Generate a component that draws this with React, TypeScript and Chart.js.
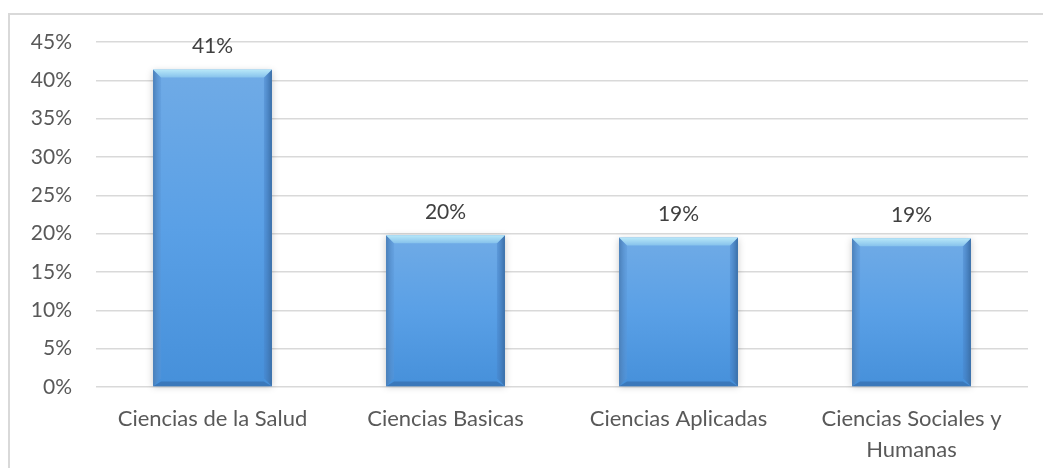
import React, { useEffect, useRef } from "react";
import { Chart, registerables } from "chart.js";

Chart.register(...registerables);

const categories: (string | string[])[] = [
  "Ciencias de la Salud",
  "Ciencias Basicas",
  "Ciencias Aplicadas",
  ["Ciencias Sociales y", "Humanas"],
];
const values: number[] = [0.414, 0.198, 0.195, 0.194];
const valueLabels: string[] = ["41%", "20%", "19%", "19%"];
const yTicks: number[] = [0, 0.05, 0.1, 0.15, 0.2, 0.25, 0.3, 0.35, 0.4, 0.45];

const FONT = "Lato, 'Open Sans', sans-serif";

const bevelPlugin = {
  id: "bevelBars",
  afterDatasetsDraw(chart: any) {
    const ctx = chart.ctx;
    const meta = chart.getDatasetMeta(0);
    meta.data.forEach((bar: any, i: number) => {
      const { x, y, base, width } = bar.getProps(["x", "y", "base", "width"], true);
      const l = x - width / 2;
      const r = x + width / 2;
      const t = y;
      const b = base;
      const bv = 8;
      ctx.save();
      ctx.shadowColor = "rgba(0,0,0,0.22)";
      ctx.shadowBlur = 7;
      ctx.shadowOffsetX = 0;
      ctx.shadowOffsetY = 1;
      const g = ctx.createLinearGradient(0, t, 0, b);
      g.addColorStop(0, "#70abe6");
      g.addColorStop(0.5, "#5aa0e6");
      g.addColorStop(1, "#4690da");
      ctx.fillStyle = g;
      ctx.fillRect(l, t, r - l, b - t);
      ctx.restore();
      ctx.save();
      const gl = ctx.createLinearGradient(l, 0, l + bv, 0);
      gl.addColorStop(0, "#4a7fb8");
      gl.addColorStop(1, "rgba(90,150,215,0.4)");
      ctx.fillStyle = gl;
      ctx.beginPath();
      ctx.moveTo(l, t);
      ctx.lineTo(l + bv, t + bv);
      ctx.lineTo(l + bv, b - bv);
      ctx.lineTo(l, b);
      ctx.closePath();
      ctx.fill();
      const gr = ctx.createLinearGradient(r - bv, 0, r, 0);
      gr.addColorStop(0, "rgba(70,130,200,0.4)");
      gr.addColorStop(1, "#3a6ea6");
      ctx.fillStyle = gr;
      ctx.beginPath();
      ctx.moveTo(r, t);
      ctx.lineTo(r - bv, t + bv);
      ctx.lineTo(r - bv, b - bv);
      ctx.lineTo(r, b);
      ctx.closePath();
      ctx.fill();
      ctx.fillStyle = "rgba(50,100,160,0.55)";
      ctx.beginPath();
      ctx.moveTo(l, b);
      ctx.lineTo(l + bv, b - bv * 0.6);
      ctx.lineTo(r - bv, b - bv * 0.6);
      ctx.lineTo(r, b);
      ctx.closePath();
      ctx.fill();
      const gt = ctx.createLinearGradient(0, t, 0, t + bv);
      gt.addColorStop(0, "#b8e8f8");
      gt.addColorStop(1, "#86c2ec");
      ctx.fillStyle = gt;
      ctx.beginPath();
      ctx.moveTo(l, t);
      ctx.lineTo(r, t);
      ctx.lineTo(r - bv, t + bv);
      ctx.lineTo(l + bv, t + bv);
      ctx.closePath();
      ctx.fill();
      ctx.fillStyle = "#404040";
      ctx.font = `21px ${FONT}`;
      ctx.textAlign = "center";
      ctx.textBaseline = "middle";
      ctx.fillText(valueLabels[i], x, t - 23);
      ctx.restore();
    });
  },
};

export default function App() {
  const ref = useRef<HTMLCanvasElement | null>(null);
  useEffect(() => {
    if (!ref.current) return;
    const chart = new Chart(ref.current, {
      type: "bar",
      data: {
        labels: categories as any,
        datasets: [
          {
            data: values,
            backgroundColor: "rgba(0,0,0,0)",
            borderWidth: 0,
            barPercentage: 0.51,
            categoryPercentage: 1,
          },
        ],
      },
      options: {
        animation: false,
        responsive: true,
        maintainAspectRatio: false,
        layout: { padding: { left: 0, right: 15, top: 27, bottom: 0 } },
        plugins: { legend: { display: false }, tooltip: { enabled: false } },
        scales: {
          x: {
            grid: { display: false },
            border: { display: false },
            ticks: {
              color: "#595959",
              font: { family: FONT, size: 22, lineHeight: 1.4 },
              padding: 9,
              maxRotation: 0,
              autoSkip: false,
            },
            afterFit(scale: any) {
              scale.height = 81;
            },
          },
          y: {
            min: 0,
            max: 0.45,
            border: { display: false },
            grid: { color: "#d9d9d9", lineWidth: 1.5, drawTicks: false },
            afterBuildTicks(scale: any) {
              scale.ticks = yTicks.map((v) => ({ value: v }));
            },
            ticks: {
              color: "#595959",
              font: { family: FONT, size: 21 },
              padding: 24,
              callback: (v: any) => `${Math.round(Number(v) * 100)}%`,
            },
            afterFit(scale: any) {
              scale.width = 86;
              scale.paddingTop = 5;
              scale.paddingBottom = 5;
            },
          },
        },
      },
      plugins: [bevelPlugin],
    });
    return () => chart.destroy();
  }, []);
  return (
    <div
      style={{
        position: "fixed",
        left: 8,
        top: 13,
        width: 1035,
        height: 455,
        borderLeft: "2px solid #d9d9d9",
        borderTop: "2px solid #d9d9d9",
        background: "#fff",
      }}
    >
      <div style={{ position: "relative", width: 1033, height: 453 }}>
        <canvas ref={ref} />
      </div>
    </div>
  );
}
